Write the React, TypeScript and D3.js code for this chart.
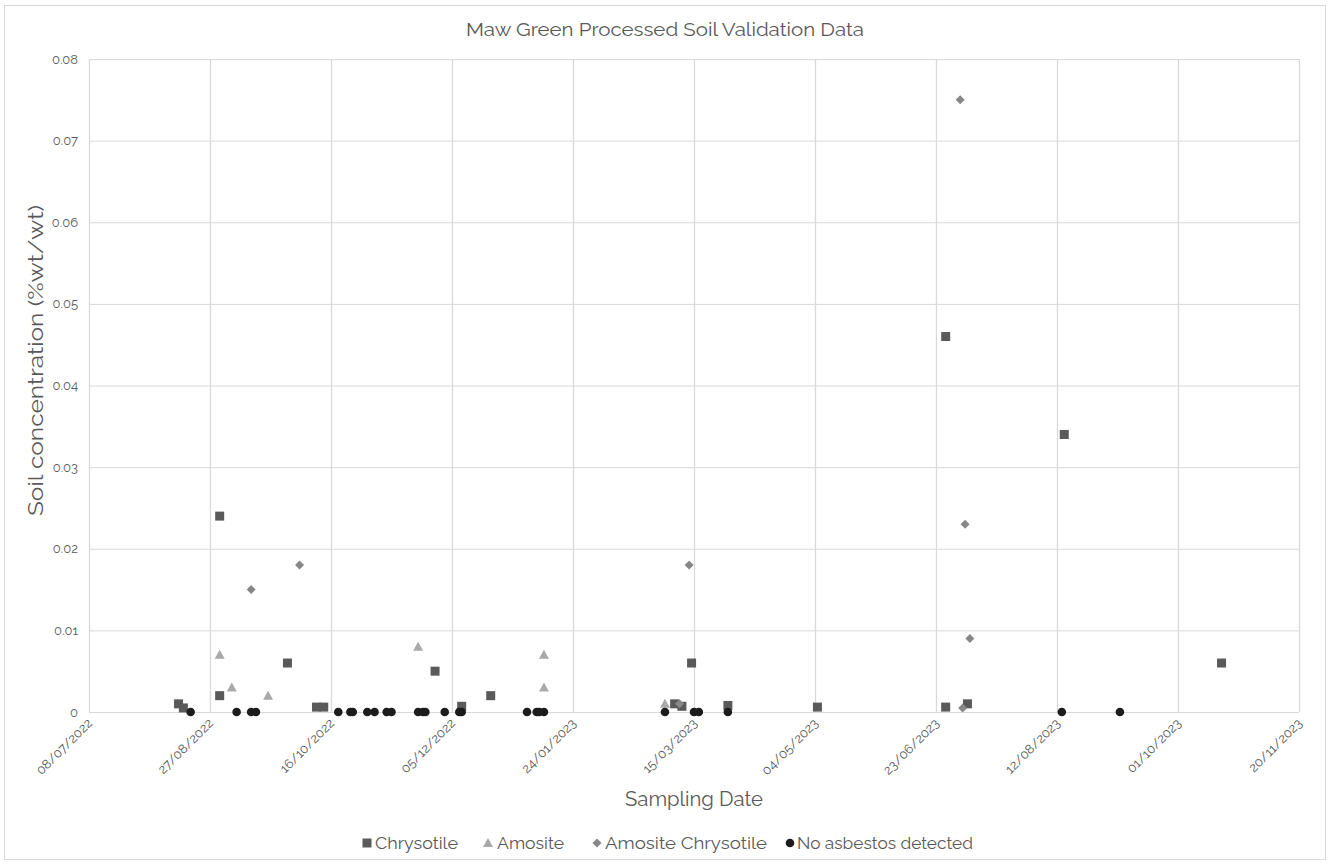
import React from "react";
import * as d3 from "d3";

const TITLE = "Maw Green Processed Soil Validation Data";
const X_LABEL = "Sampling Date";
const Y_LABEL = "Soil concentration (%wt/wt)";
const X_DOMAIN = ["2022-07-08", "2023-11-20"];
const Y_TICKS = [0, 0.01, 0.02, 0.03, 0.04, 0.05, 0.06, 0.07, 0.08];

const chrysotileDates = [
  "2022-08-14", "2022-08-16", "2022-08-31", "2022-08-31", "2022-09-28", "2022-10-10", "2022-10-13",
  "2022-11-28", "2022-12-09", "2022-12-21", "2023-03-07", "2023-03-10", "2023-03-14", "2023-03-29",
  "2023-05-05", "2023-06-27", "2023-06-27", "2023-07-06", "2023-08-15", "2023-10-19",
];
const chrysotileValues = [
  0.001, 0.0005, 0.024, 0.002, 0.006, 0.0006, 0.0006,
  0.005, 0.0007, 0.002, 0.001, 0.0007, 0.006, 0.0008,
  0.0006, 0.046, 0.0006, 0.001, 0.034, 0.006,
];

const amositeDates = [
  "2022-08-31", "2022-09-05", "2022-09-20", "2022-11-21", "2023-01-12", "2023-01-12", "2023-03-03",
];
const amositeValues = [0.007, 0.003, 0.002, 0.008, 0.007, 0.003, 0.001];

const amositeChrysotileDates = [
  "2022-09-13", "2022-10-03", "2023-03-09", "2023-03-13", "2023-07-03", "2023-07-04", "2023-07-05", "2023-07-07",
];
const amositeChrysotileValues = [0.015, 0.018, 0.001, 0.018, 0.075, 0.0005, 0.023, 0.009];

const noAsbestosDates = [
  "2022-08-19", "2022-09-07", "2022-09-13", "2022-09-15", "2022-10-19", "2022-10-24", "2022-10-25",
  "2022-10-31", "2022-11-03", "2022-11-08", "2022-11-10", "2022-11-21", "2022-11-23", "2022-11-24",
  "2022-12-02", "2022-12-08", "2022-12-09", "2023-01-05", "2023-01-09", "2023-01-10", "2023-01-12",
  "2023-03-03", "2023-03-15", "2023-03-17", "2023-03-29", "2023-08-14", "2023-09-07",
];
const noAsbestosValues = noAsbestosDates.map(() => 0);

const SERIES = [
  { name: "Chrysotile", dates: chrysotileDates, values: chrysotileValues, shape: "square", color: "#5a5a5a" },
  { name: "Amosite", dates: amositeDates, values: amositeValues, shape: "triangle", color: "#a9a9a9" },
  { name: "Amosite Chrysotile", dates: amositeChrysotileDates, values: amositeChrysotileValues, shape: "diamond", color: "#878787" },
  { name: "No asbestos detected", dates: noAsbestosDates, values: noAsbestosValues, shape: "circle", color: "#1c1c1c" },
];

const parse = d3.utcParse("%Y-%m-%d");
const fmt = d3.utcFormat("%d/%m/%Y");
const FONT = "Raleway, Lato, 'Open Sans', sans-serif";
const TEXT = "#595959";
const GRID = "#d9d9d9";

function Marker({ shape, color, x, y }: { shape: string; color: string; x: number; y: number }) {
  if (shape === "square") return <rect x={x - 4.5} y={y - 4.5} width={9} height={9} fill={color} />;
  if (shape === "triangle")
    return <path d={`M${x},${y - 5} L${x + 5},${y + 4} L${x - 5},${y + 4} Z`} fill={color} />;
  if (shape === "diamond")
    return <path d={`M${x},${y - 4.5} L${x + 4.5},${y} L${x},${y + 4.5} L${x - 4.5},${y} Z`} fill={color} />;
  return <circle cx={x} cy={y} r={4.3} fill={color} />;
}

export default function App() {
  const W = 1330, H = 864;
  const left = 89, right = 1299, top = 59, bottom = 712;
  const x = d3.scaleUtc().domain(X_DOMAIN.map((d) => parse(d) as Date)).range([left, right]);
  const y = d3.scaleLinear().domain([0, 0.08]).range([bottom, top]);
  const start = parse(X_DOMAIN[0]) as Date;
  const end = parse(X_DOMAIN[1]) as Date;
  const xTicks = d3.range(0, 11).map((i) => d3.utcDay.offset(start, i * 50)).filter((d) => d <= end);

  const legendItems = [
    { mx: 367, tx: 375, len: 83 },
    { mx: 488, tx: 497, len: 67 },
    { mx: 597, tx: 605, len: 162 },
    { mx: 790, tx: 797, len: 176 },
  ];

  return (
    <svg width={W} height={H} style={{ position: "absolute", left: 0, top: 0 }} fontFamily={FONT}>
      <rect x={0} y={0} width={W} height={H} fill="#fff" />
      <rect x={4.5} y={5.5} width={1321} height={854} fill="#fff" stroke={GRID} />
      <text x={466} y={36} fontSize={19} fill={TEXT} textLength={398} lengthAdjust="spacingAndGlyphs">{TITLE}</text>

      {Y_TICKS.map((t) => (
        <g key={"y" + t}>
          <line x1={left} x2={right} y1={y(t) + 0.5} y2={y(t) + 0.5} stroke={GRID} strokeWidth={1} />
          <text x={78} y={y(t) + 4.5} textAnchor="end" fontSize={13} fill={TEXT}>{t === 0 ? "0" : t.toFixed(2)}</text>
        </g>
      ))}
      {xTicks.map((d, i) => (
        <g key={"x" + i}>
          <line x1={x(d) + 0.5} x2={x(d) + 0.5} y1={top} y2={bottom} stroke={GRID} strokeWidth={1.3} />
          <text
            transform={`translate(${x(d) + 4},${bottom + 12}) rotate(-45)`}
            textAnchor="end"
            fontSize={13}
            fill={TEXT}
          >
            {fmt(d)}
          </text>
        </g>
      ))}

      {SERIES.map((s) =>
        s.dates.map((d, i) => (
          <Marker key={s.name + i} shape={s.shape} color={s.color} x={x(parse(d) as Date)} y={y(s.values[i])} />
        ))
      )}

      <text x={625} y={806} fontSize={20} fill={TEXT} textLength={138} lengthAdjust="spacingAndGlyphs">{X_LABEL}</text>
      <text transform={`translate(43,516) rotate(-90)`} fontSize={20} fill={TEXT} textLength={311} lengthAdjust="spacingAndGlyphs">{Y_LABEL}</text>

      {SERIES.map((s, i) => (
        <g key={"lg" + i}>
          <Marker shape={s.shape} color={s.color} x={legendItems[i].mx} y={843} />
          <text x={legendItems[i].tx} y={849} fontSize={16.5} fill={TEXT} textLength={legendItems[i].len} lengthAdjust="spacingAndGlyphs">{s.name}</text>
        </g>
      ))}
    </svg>
  );
}
